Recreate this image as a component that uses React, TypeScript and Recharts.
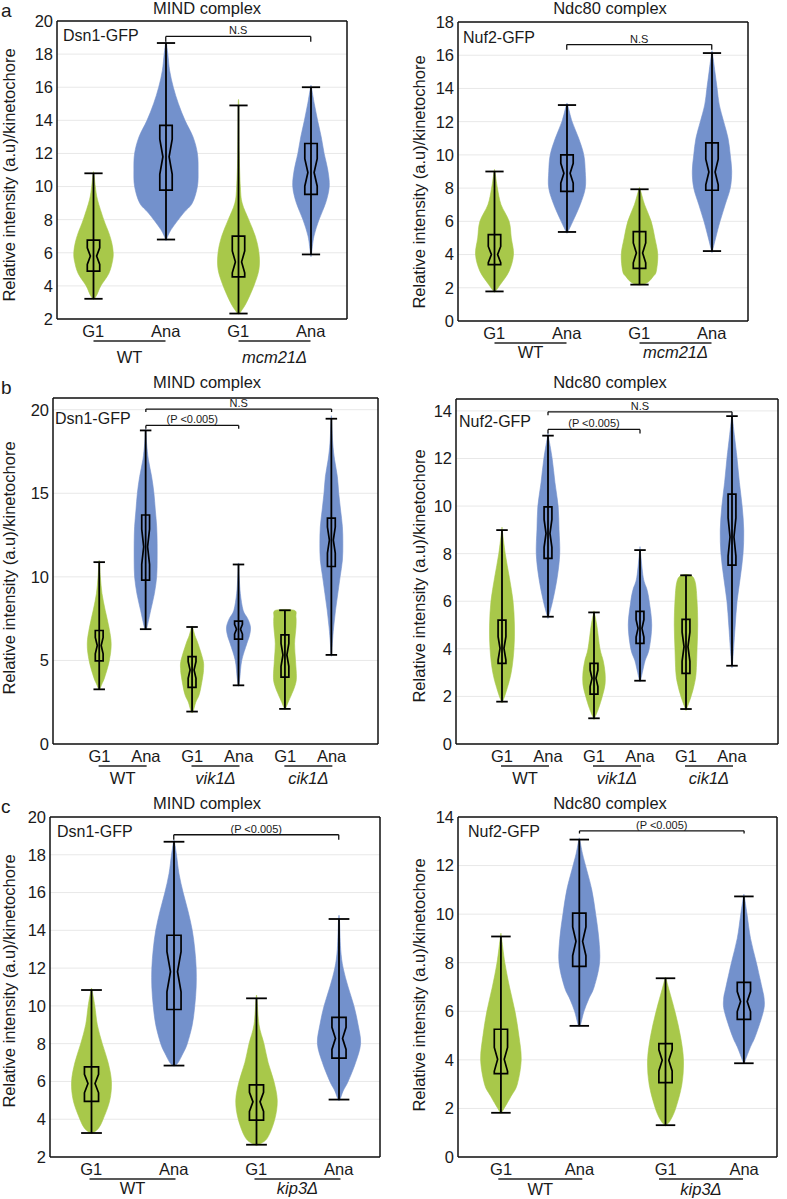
import { Bar, CartesianGrid, ComposedChart, ReferenceLine, XAxis, YAxis } from "recharts"

const GREEN = "#a8c84a"
const BLUE = "#7391cc"
const INK = "#1a1a1a"
const FONT = '"Liberation Sans", Arial, Helvetica, sans-serif'

// phase of each violin, left to right
const phases4 = ["G1", "Ana", "G1", "Ana"]
const phases6 = ["G1", "Ana", "G1", "Ana", "G1", "Ana"]

// x slot of each violin
const slots4 = [1, 2, 3, 4]
const slots6 = [1, 2, 3, 4, 5, 6]
const slotsKip3Ndc = [1, 2, 3.1, 4.1]

// strain groups under the axis
const groupsMcm21 = [
  { at: 1.5, text: "WT" },
  { at: 3.5, text: "mcm21Δ", italic: true },
]
const groupsVikCik = [
  { at: 1.5, text: "WT" },
  { at: 3.5, text: "vik1Δ", italic: true },
  { at: 5.5, text: "cik1Δ", italic: true },
]
const groupsKip3 = [
  { at: 1.5, text: "WT" },
  { at: 3.5, text: "kip3Δ", italic: true },
]
const groupsKip3Ndc = [
  { at: 1.5, text: "WT" },
  { at: 3.55, text: "kip3Δ", italic: true },
]

// [min, q1, median, q3, max]
const aMindStats = [
  [3.22, 4.89, 5.8, 6.76, 10.8],
  [6.8, 9.78, 11.8, 13.7, 18.67],
  [2.33, 4.55, 5.45, 7.0, 14.9],
  [5.9, 9.53, 10.85, 12.6, 16.0],
]
const aNdcStats = [
  [1.78, 3.39, 4.0, 5.2, 9.0],
  [5.36, 7.8, 8.9, 10.0, 13.0],
  [2.19, 3.17, 4.1, 5.38, 7.93],
  [4.21, 7.87, 8.97, 10.72, 16.13],
]
const bMindStats = [
  [3.27, 4.97, 5.89, 6.79, 10.88],
  [6.87, 9.8, 11.8, 13.7, 18.76],
  [1.94, 3.39, 4.43, 5.23, 7.0],
  [3.51, 6.27, 6.87, 7.35, 10.74],
  [2.1, 4.0, 5.33, 6.53, 8.0],
  [5.33, 10.62, 12.2, 13.51, 19.46],
]
const bNdcStats = [
  [1.78, 3.39, 4.02, 5.21, 8.99],
  [5.35, 7.8, 8.85, 9.97, 12.96],
  [1.08, 2.1, 2.76, 3.39, 5.53],
  [2.66, 4.23, 4.86, 5.57, 8.15],
  [1.47, 2.97, 4.09, 5.24, 7.09],
  [3.29, 7.52, 8.7, 10.5, 13.78],
]
const cMindStats = [
  [3.27, 4.95, 5.89, 6.77, 10.84],
  [6.84, 9.81, 11.81, 13.74, 18.69],
  [2.65, 3.95, 4.92, 5.82, 10.4],
  [5.04, 7.23, 8.28, 9.39, 14.6],
]
const cNdcStats = [
  [1.82, 3.43, 4.02, 5.26, 9.08],
  [5.4, 7.85, 8.88, 10.04, 13.07],
  [1.31, 3.06, 3.98, 4.67, 7.36],
  [3.86, 5.67, 6.4, 7.19, 10.73],
]

// density profile of each violin: [value, half width in slot units]
const aMindDensity = [
  [[3.22, 0.01], [3.5, 0.05], [4, 0.1], [4.75, 0.21], [5.5, 0.26], [6, 0.27], [6.6, 0.25], [7.2, 0.21], [8, 0.14], [9.2, 0.055], [10, 0.025], [10.8, 0.005]],
  [[6.8, 0.005], [7.4, 0.07], [8.4, 0.24], [9, 0.36], [10, 0.43], [11, 0.44], [12, 0.43], [13, 0.37], [14, 0.26], [15, 0.17], [16, 0.1], [17, 0.05], [18, 0.025], [18.67, 0.005]],
  [[2.33, 0.01], [2.5, 0.04], [3, 0.11], [4, 0.21], [5, 0.28], [6, 0.28], [7, 0.23], [8, 0.14], [9, 0.05], [10, 0.025], [12, 0.01], [14.9, 0.004]],
  [[5.9, 0.005], [7, 0.04], [8, 0.11], [9, 0.2], [10, 0.25], [11, 0.23], [12, 0.18], [13, 0.14], [14, 0.09], [15, 0.045], [16, 0.005]],
]
const aNdcDensity = [
  [[1.78, 0.01], [2.2, 0.08], [3, 0.2], [4, 0.26], [5, 0.23], [6, 0.2], [7, 0.09], [8, 0.04], [9, 0.005]],
  [[5.36, 0.01], [6, 0.08], [7, 0.18], [8, 0.25], [9, 0.25], [10, 0.23], [11, 0.16], [12, 0.07], [13, 0.008]],
  [[2.19, 0.03], [2.35, 0.12], [2.7, 0.19], [3, 0.23], [4, 0.25], [5, 0.21], [6, 0.16], [7, 0.07], [7.93, 0.008]],
  [[4.21, 0.005], [5, 0.05], [6, 0.11], [7, 0.18], [8, 0.25], [9, 0.27], [10, 0.25], [11, 0.22], [12, 0.16], [13, 0.1], [14, 0.07], [15, 0.04], [16.13, 0.005]],
]
const bMindDensity = [
  [[3.27, 0.01], [3.6, 0.06], [4, 0.12], [5, 0.22], [6, 0.26], [7, 0.21], [8, 0.13], [9, 0.06], [10, 0.025], [10.88, 0.005]],
  [[6.87, 0.005], [7, 0.03], [8, 0.11], [9, 0.19], [10, 0.24], [11, 0.25], [12, 0.25], [13, 0.24], [14, 0.21], [15, 0.18], [16, 0.13], [17, 0.06], [18, 0.02], [18.76, 0.005]],
  [[1.94, 0.02], [2.5, 0.08], [3, 0.16], [4, 0.23], [4.5, 0.25], [5, 0.24], [6, 0.13], [6.5, 0.06], [7, 0.01]],
  [[3.51, 0.005], [4, 0.03], [5, 0.07], [6, 0.18], [6.5, 0.24], [7, 0.26], [7.5, 0.2], [8, 0.1], [9, 0.04], [10, 0.015], [10.74, 0.005]],
  [[2.1, 0.01], [2.5, 0.07], [3, 0.15], [3.5, 0.22], [4, 0.25], [5, 0.23], [6, 0.21], [7, 0.24], [7.6, 0.24], [8, 0.2]],
  [[5.33, 0.005], [6, 0.02], [7, 0.05], [8, 0.09], [9, 0.14], [10, 0.19], [11, 0.24], [12, 0.25], [13, 0.24], [14, 0.2], [15, 0.16], [16, 0.13], [17, 0.07], [18, 0.03], [19.46, 0.005]],
]
const bNdcDensity = [
  [[1.78, 0.01], [2.2, 0.09], [3, 0.2], [4, 0.26], [5, 0.27], [6, 0.24], [7, 0.16], [8, 0.07], [8.99, 0.005]],
  [[5.35, 0.01], [6, 0.1], [7, 0.2], [8, 0.255], [9, 0.24], [10, 0.22], [11, 0.15], [12, 0.09], [12.96, 0.005]],
  [[1.08, 0.01], [1.5, 0.1], [2, 0.18], [2.5, 0.24], [3, 0.24], [3.5, 0.2], [4, 0.13], [5, 0.06], [5.53, 0.005]],
  [[2.66, 0.01], [3, 0.05], [3.5, 0.11], [4, 0.2], [5, 0.255], [6, 0.2], [6.5, 0.15], [7, 0.07], [8.15, 0.005]],
  [[1.47, 0.01], [2, 0.11], [2.5, 0.18], [3, 0.22], [4, 0.24], [5, 0.255], [6, 0.24], [6.8, 0.2], [7.09, 0.1]],
  [[3.29, 0.005], [4, 0.035], [5, 0.07], [6, 0.11], [7, 0.18], [8, 0.24], [9, 0.255], [10, 0.22], [11, 0.16], [12, 0.11], [13, 0.05], [13.78, 0.005]],
]
const cMindDensity = [
  [[3.27, 0.01], [3.5, 0.08], [4, 0.14], [5, 0.22], [6, 0.24], [7, 0.2], [8, 0.13], [9, 0.07], [10, 0.04], [10.84, 0.005]],
  [[6.84, 0.01], [7, 0.05], [7.5, 0.11], [8, 0.16], [9, 0.22], [10, 0.25], [11, 0.267], [12, 0.267], [13, 0.25], [14, 0.22], [15, 0.17], [16, 0.11], [17, 0.06], [18, 0.03], [18.69, 0.005]],
  [[2.65, 0.02], [3, 0.13], [4, 0.22], [5, 0.25], [6, 0.21], [7, 0.14], [8, 0.09], [9, 0.03], [10.4, 0.005]],
  [[5.04, 0.01], [5.5, 0.05], [6, 0.11], [7, 0.2], [8, 0.26], [9, 0.23], [10, 0.18], [11, 0.11], [12, 0.05], [13, 0.02], [14.6, 0.005]],
]
const cNdcDensity = [
  [[1.82, 0.005], [2, 0.04], [2.5, 0.13], [3, 0.21], [4, 0.26], [5, 0.23], [6, 0.18], [7, 0.11], [8, 0.05], [9.08, 0.005]],
  [[5.4, 0.01], [5.5, 0.02], [6, 0.06], [6.5, 0.12], [7, 0.19], [8, 0.26], [9, 0.25], [10, 0.21], [11, 0.16], [12, 0.08], [12.5, 0.04], [13.07, 0.005]],
  [[1.31, 0.01], [1.5, 0.06], [2, 0.13], [3, 0.21], [4, 0.23], [5, 0.19], [6, 0.12], [7, 0.035], [7.36, 0.005]],
  [[3.86, 0.005], [4, 0.02], [4.5, 0.08], [5, 0.15], [6, 0.25], [6.5, 0.26], [7, 0.23], [8, 0.16], [9, 0.085], [10, 0.04], [10.73, 0.005]],
]

// significance brackets
const aMindBrackets = [{ from: 2, to: 4, y: 19.07, tip: 18.75, text: "N.S" }]
const aNdcBrackets = [{ from: 2, to: 4, y: 16.64, tip: 16.33, text: "N.S" }]
const bMindBrackets = [
  { from: 2, to: 6, y: 20.04, tip: 19.86, text: "N.S" },
  { from: 2, to: 4, y: 19.06, tip: 18.86, text: "(P <0.005)" },
]
const bNdcBrackets = [
  { from: 2, to: 6, y: 13.96, tip: 13.82, text: "N.S" },
  { from: 2, to: 4, y: 13.22, tip: 13.05, text: "(P <0.005)" },
]
const cMindBrackets = [{ from: 2, to: 4, y: 19.06, tip: 18.8, text: "(P <0.005)" }]
const cNdcBrackets = [{ from: 2, to: 4.1, y: 13.43, tip: 13.32, text: "(P <0.005)" }]

const ticks2to20 = [2, 4, 6, 8, 10, 12, 14, 16, 18, 20]
const ticks0to18 = [0, 2, 4, 6, 8, 10, 12, 14, 16, 18]
const ticks0to20by5 = [0, 5, 10, 15, 20]
const ticks0to14 = [0, 2, 4, 6, 8, 10, 12, 14]

const YLABEL = "Relative intensity (a.u)/kinetochore"

const panels = [
  {
    id: "aMind", title: "MIND complex", tag: "Dsn1-GFP",
    plot: [57, 21, 347, 319], chartLeft: 0,
    xDomain: [0.5, 4.5], yDomain: [2, 20], yTicks: ticks2to20,
    slots: slots4, phases: phases4, stats: aMindStats, density: aMindDensity,
    groups: groupsMcm21, brackets: aMindBrackets, underline: 36, groupDy: 38,
    titleAt: [207, 8], tagAt: [63, 36], ylabAt: [9, 175],
  },
  {
    id: "aNdc", title: "Ndc80 complex", tag: "Nuf2-GFP",
    plot: [458, 22, 748, 321], chartLeft: 398,
    xDomain: [0.5, 4.5], yDomain: [0, 18], yTicks: ticks0to18,
    slots: slots4, phases: phases4, stats: aNdcStats, density: aNdcDensity,
    groups: groupsMcm21, brackets: aNdcBrackets, underline: 36, groupDy: 31,
    titleAt: [610, 8], tagAt: [463, 38], ylabAt: [419, 182],
  },
  {
    id: "bMind", title: "MIND complex", tag: "Dsn1-GFP",
    plot: [53, 398, 378, 744], chartLeft: 0,
    xDomain: [0, 7], yDomain: [0, 20.7], yTicks: ticks0to20by5,
    slots: slots6, phases: phases6, stats: bMindStats, density: bMindDensity,
    groups: groupsVikCik, brackets: bMindBrackets, underline: 24, groupDy: 34,
    titleAt: [207, 382], tagAt: [55, 419], ylabAt: [9, 568],
  },
  {
    id: "bNdc", title: "Ndc80 complex", tag: "Nuf2-GFP",
    plot: [456, 399, 778, 744], chartLeft: 398,
    xDomain: [0, 7], yDomain: [0, 14.5], yTicks: ticks0to14,
    slots: slots6, phases: phases6, stats: bNdcStats, density: bNdcDensity,
    groups: groupsVikCik, brackets: bNdcBrackets, underline: 24, groupDy: 34,
    titleAt: [610, 382], tagAt: [459, 422], ylabAt: [419, 576],
  },
  {
    id: "cMind", title: "MIND complex", tag: "Dsn1-GFP",
    plot: [50, 817, 380, 1157], chartLeft: 0,
    xDomain: [0.5, 4.5], yDomain: [2, 20], yTicks: ticks2to20,
    slots: slots4, phases: phases4, stats: cMindStats, density: cMindDensity,
    groups: groupsKip3, brackets: cMindBrackets, underline: 43, groupDy: 31,
    titleAt: [207, 803], tagAt: [57, 832], ylabAt: [9, 981],
  },
  {
    id: "cNdc", title: "Ndc80 complex", tag: "Nuf2-GFP",
    plot: [458, 817, 777, 1157], chartLeft: 398,
    xDomain: [0.45, 4.52], yDomain: [0, 14], yTicks: ticks0to14,
    slots: slotsKip3Ndc, phases: phases4, stats: cNdcStats, density: cNdcDensity,
    groups: groupsKip3Ndc, brackets: cNdcBrackets, underline: 42, groupDy: 32,
    titleAt: [610, 803], tagAt: [468, 832], ylabAt: [419, 985],
  },
]

const letters = [
  { text: "a", x: 1, cy: 10 },
  { text: "b", x: 1, cy: 387 },
  { text: "c", x: 1, cy: 806 },
]

function smoothClosed(pts: number[][]) {
  const n = pts.length
  let d = `M${pts[0][0]},${pts[0][1]}`
  for (let i = 0; i < n; i++) {
    const p0 = pts[(i - 1 + n) % n]
    const p1 = pts[i]
    const p2 = pts[(i + 1) % n]
    const p3 = pts[(i + 2) % n]
    const c1x = p1[0] + (p2[0] - p0[0]) / 6
    const c1y = p1[1] + (p2[1] - p0[1]) / 6
    const c2x = p2[0] - (p3[0] - p1[0]) / 6
    const c2y = p2[1] - (p3[1] - p1[1]) / 6
    d += ` C${c1x},${c1y} ${c2x},${c2y} ${p2[0]},${p2[1]}`
  }
  return d + "Z"
}

// bar shape: the bar spans min..max, the violin and notched box are drawn inside it
function Violin(props: any) {
  const { x, y, width, height, payload } = props
  if (!payload || !isFinite(y) || !isFinite(height)) return null
  const [lo, q1, med, q3, hi] = payload.stats
  const cx = x + width / 2
  const py = (v: number) => y + (height * (hi - v)) / (hi - lo)
  const dens: number[][] = payload.density
  const right = dens.slice().reverse().map(([v, w]) => [cx + w * width, py(v)])
  const left = dens.map(([v, w]) => [cx - w * width, py(v)])
  const outline = smoothClosed([...right, ...left])
  const bw = width * 0.085
  const cap = width * 0.125
  const notch = 0.27 * (q3 - q1)
  const nHi = Math.min(med + notch, q3)
  const nLo = Math.max(med - notch, q1)
  const box = [
    [cx - bw, py(q3)], [cx + bw, py(q3)], [cx + bw, py(nHi)], [cx + bw / 2, py(med)],
    [cx + bw, py(nLo)], [cx + bw, py(q1)], [cx - bw, py(q1)], [cx - bw, py(nLo)],
    [cx - bw / 2, py(med)], [cx - bw, py(nHi)],
  ]
  const fill = payload.phase === "G1" ? GREEN : BLUE
  return (
    <g>
      <path d={outline} fill={fill} stroke={fill} strokeWidth={0.6} />
      <line x1={cx} x2={cx} y1={py(hi)} y2={py(lo)} stroke="#000" strokeWidth={1.8} />
      <line x1={cx - cap} x2={cx + cap} y1={py(hi)} y2={py(hi)} stroke="#000" strokeWidth={1.8} />
      <line x1={cx - cap} x2={cx + cap} y1={py(lo)} y2={py(lo)} stroke="#000" strokeWidth={1.8} />
      <polygon points={box.map((p) => p.join(",")).join(" ")} fill="none" stroke="#000" strokeWidth={1.7} />
    </g>
  )
}

function GroupTick(props: any) {
  const { x, y, payload, groups, half, dy } = props
  const g = groups.find((it: any) => Math.abs(it.at - payload.value) < 1e-6)
  if (!g) return null
  return (
    <g>
      <line x1={x - half} x2={x + half} y1={y + 2} y2={y + 2} stroke="#222" strokeWidth={1.3} />
      <text
        x={x}
        y={y + dy}
        textAnchor="middle"
        dominantBaseline="central"
        fontSize={16.5}
        fontStyle={g.italic ? "italic" : "normal"}
        fill={INK}
        fontFamily={FONT}
      >
        {g.text}
      </text>
    </g>
  )
}

function Overlay({ at, text, size, rotate, anchor }: any) {
  return (
    <div
      style={{
        position: "absolute",
        left: at[0],
        top: at[1],
        transform: anchor === "left" ? "translate(0,-50%)" : `translate(-50%,-50%)${rotate ? " rotate(-90deg)" : ""}`,
        whiteSpace: "nowrap",
        fontSize: size,
        lineHeight: 1,
      }}
    >
      {text}
    </div>
  )
}

const frame = { stroke: "#111", strokeWidth: 1.5 }

function ViolinPanel({ p }: { p: any }) {
  const [pl, pt, pr, pb] = p.plot
  const top = 15
  const right = 8
  const axisH = 20
  const groupH = 40
  const width = pr + right - p.chartLeft
  const height = top + (pb - pt) + axisH + groupH
  const data = p.slots.map((s: number, i: number) => ({
    x: s,
    range: [p.stats[i][0], p.stats[i][4]],
    stats: p.stats[i],
    density: p.density[i],
    phase: p.phases[i],
  }))
  const mids = p.slots.slice(1).map((s: number, i: number) => (s + p.slots[i]) / 2)
  const tickFont = { fontSize: 16.5, fill: INK, fontFamily: FONT }
  return (
    <>
      <div style={{ position: "absolute", left: p.chartLeft, top: pt - top, width, height }}>
        <ComposedChart
          width={width}
          height={height}
          data={data}
          margin={{ top, right, left: 0, bottom: 0 }}
          barCategoryGap={0}
          barGap={0}
        >
          <CartesianGrid horizontal vertical={false} stroke="#e8e8e8" />
          <XAxis
            dataKey="x"
            type="number"
            domain={p.xDomain}
            ticks={p.slots}
            interval={0}
            allowDataOverflow
            height={axisH}
            tickLine={false}
            tickSize={0}
            tickMargin={6}
            axisLine={frame}
            tick={tickFont}
            tickFormatter={(v: number) => p.phases[p.slots.indexOf(v)]}
          />
          <XAxis
            xAxisId="grp"
            dataKey="x"
            type="number"
            domain={p.xDomain}
            ticks={p.groups.map((g: any) => g.at)}
            interval={0}
            allowDataOverflow
            height={groupH}
            axisLine={false}
            tickLine={false}
            tickSize={0}
            tickMargin={0}
            tick={<GroupTick groups={p.groups} half={p.underline} dy={p.groupDy - axisH} />}
          />
          <XAxis
            xAxisId="top"
            dataKey="x"
            orientation="top"
            mirror
            type="number"
            domain={p.xDomain}
            ticks={mids}
            interval={0}
            allowDataOverflow
            tick={false}
            tickSize={4}
            tickLine={{ stroke: "#111" }}
            axisLine={frame}
          />
          <XAxis
            xAxisId="bm"
            dataKey="x"
            orientation="bottom"
            mirror
            type="number"
            domain={p.xDomain}
            ticks={mids}
            interval={0}
            allowDataOverflow
            tick={false}
            tickSize={4}
            tickLine={{ stroke: "#111" }}
            axisLine={false}
          />
          <YAxis
            type="number"
            domain={p.yDomain}
            ticks={p.yTicks}
            interval={0}
            allowDataOverflow
            width={pl - p.chartLeft}
            tickLine={false}
            tickSize={0}
            tickMargin={4}
            axisLine={frame}
            tick={tickFont}
          />
          <YAxis
            yAxisId="lm"
            orientation="left"
            mirror
            type="number"
            domain={p.yDomain}
            ticks={p.yTicks}
            interval={0}
            allowDataOverflow
            tick={false}
            tickSize={4}
            tickLine={{ stroke: "#111" }}
            axisLine={false}
          />
          <YAxis
            yAxisId="r"
            orientation="right"
            mirror
            type="number"
            domain={p.yDomain}
            ticks={p.yTicks}
            interval={0}
            allowDataOverflow
            tick={false}
            tickSize={4}
            tickLine={{ stroke: "#111" }}
            axisLine={frame}
          />
          <Bar dataKey="range" shape={<Violin />} isAnimationActive={false} />
          {p.brackets.flatMap((b: any, i: number) => [
            <ReferenceLine
              key={`l${i}`}
              segment={[{ x: b.from, y: b.tip }, { x: b.from, y: b.y }]}
              stroke="#111"
              strokeWidth={1.3}
              ifOverflow="visible"
            />,
            <ReferenceLine
              key={`m${i}`}
              segment={[{ x: b.from, y: b.y }, { x: b.to, y: b.y }]}
              stroke="#111"
              strokeWidth={1.3}
              ifOverflow="visible"
              label={{ value: b.text, position: "top", offset: 2, fontSize: 11, fill: INK, fontFamily: FONT }}
            />,
            <ReferenceLine
              key={`r${i}`}
              segment={[{ x: b.to, y: b.y }, { x: b.to, y: b.tip }]}
              stroke="#111"
              strokeWidth={1.3}
              ifOverflow="visible"
            />,
          ])}
        </ComposedChart>
      </div>
      <Overlay at={p.titleAt} text={p.title} size={16.5} />
      <Overlay at={p.tagAt} text={p.tag} size={16} anchor="left" />
      <Overlay at={p.ylabAt} text={YLABEL} size={16.5} rotate />
    </>
  )
}

export default function App() {
  return (
    <div
      style={{
        position: "absolute",
        left: 0,
        top: 0,
        width: 787,
        height: 1199,
        background: "#fff",
        fontFamily: FONT,
        color: INK,
        overflow: "hidden",
      }}
    >
      {panels.map((p) => (
        <ViolinPanel key={p.id} p={p} />
      ))}
      {letters.map((l) => (
        <div
          key={l.text}
          style={{ position: "absolute", left: l.x, top: l.cy, transform: "translate(0,-50%)", fontSize: 19, lineHeight: 1 }}
        >
          {l.text}
        </div>
      ))}
    </div>
  )
}
